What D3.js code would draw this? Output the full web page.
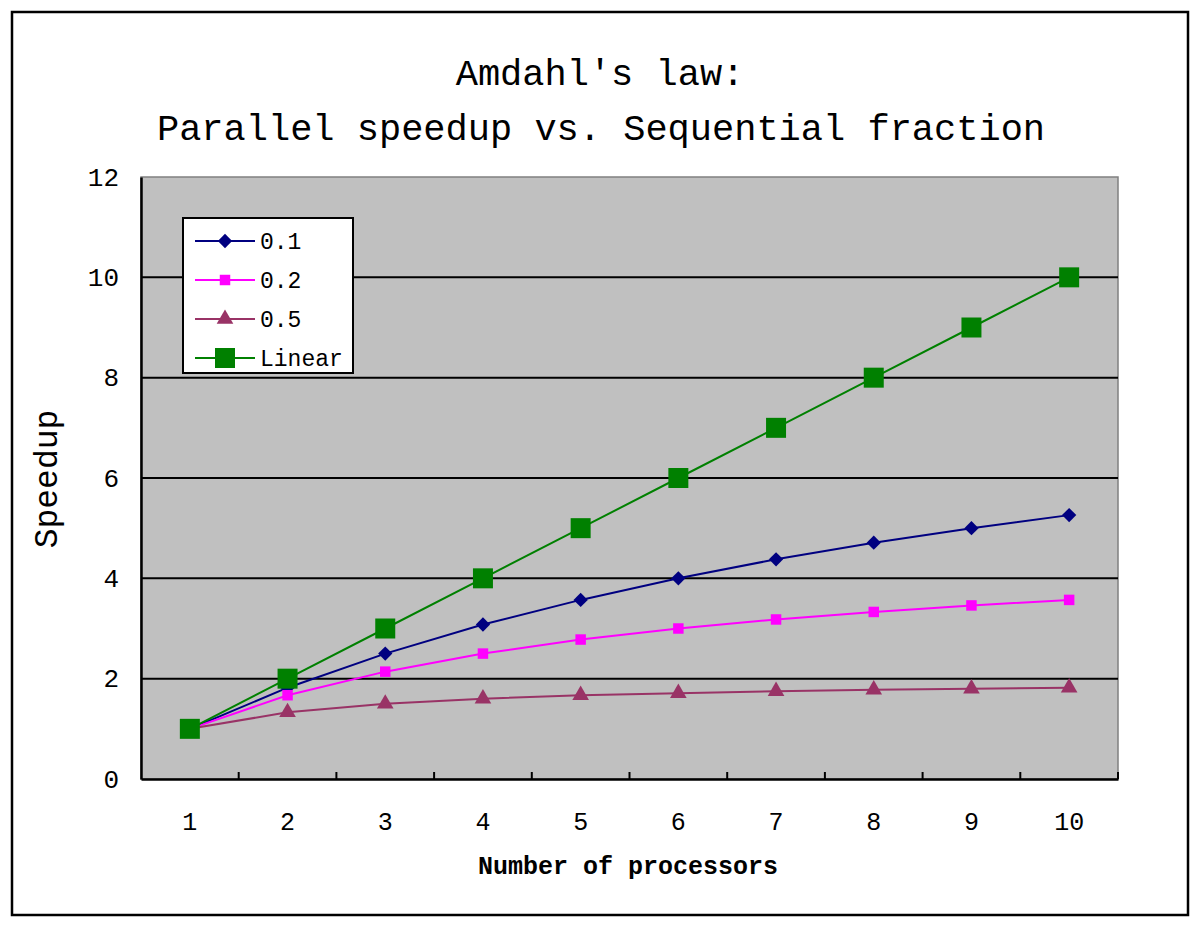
<!DOCTYPE html>
<html>
<head>
<meta charset="utf-8">
<script src="https://cdn.jsdelivr.net/npm/d3@7"></script>
<style>
  body { margin: 0; background: #fff; }
  text { font-family: "Liberation Mono", "DejaVu Sans Mono", monospace; fill: #000; }
</style>
</head>
<body>
<svg id="chart" width="1200" height="928"></svg>
<script>
// data
const processors = [1, 2, 3, 4, 5, 6, 7, 8, 9, 10];
const s01 = [1, 1.82, 2.5, 3.08, 3.57, 4, 4.38, 4.71, 5, 5.26];
const s02 = [1, 1.67, 2.14, 2.5, 2.78, 3, 3.18, 3.33, 3.46, 3.57];
const s05 = [1, 1.33, 1.5, 1.6, 1.67, 1.71, 1.75, 1.78, 1.8, 1.82];
const linear = [1, 2, 3, 4, 5, 6, 7, 8, 9, 10];
const seriesNames = ['0.1', '0.2', '0.5', 'Linear'];
const yTicks = [0, 2, 4, 6, 8, 10, 12];

const series = [
  { name: seriesNames[0], values: s01, color: '#000080', shape: d3.symbolDiamond2, size: 130 },
  { name: seriesNames[1], values: s02, color: '#ff00ff', shape: d3.symbolSquare, size: 110 },
  { name: seriesNames[2], values: s05, color: '#993366', shape: d3.symbolTriangle, size: 120 },
  { name: seriesNames[3], values: linear, color: '#008000', shape: d3.symbolSquare, size: 400 }
];

const svg = d3.select('#chart');
const plotL = 141, plotR = 1118, plotT = 177, plotB = 779;

// outer frame
svg.append('rect')
  .attr('x', 12).attr('y', 12).attr('width', 1176).attr('height', 903)
  .attr('fill', '#fff').attr('stroke', '#000').attr('stroke-width', 2.5);

var x = d3.scaleBand().domain(processors).range([plotL, plotR]);
var y = d3.scaleLinear().domain([0, 12]).range([plotB, plotT]);

// plot area
svg.append('rect')
  .attr('x', plotL).attr('y', plotT).attr('width', plotR - plotL).attr('height', plotB - plotT)
  .attr('fill', '#c0c0c0').attr('stroke', '#808080').attr('stroke-width', 1.5);

// gridlines
svg.append('g')
  .selectAll('line')
  .data(yTicks.filter(d => d > 0 && d < 12))
  .join('line')
  .attr('x1', plotL).attr('x2', plotR)
  .attr('y1', d => y(d)).attr('y2', d => y(d))
  .attr('stroke', '#000').attr('stroke-width', 2);

// y axis
var yAxis = svg.append('g')
  .attr('transform', `translate(${plotL},0)`)
  .call(d3.axisLeft(y).tickValues(yTicks).tickSize(0).tickPadding(22));
yAxis.select('.domain').attr('stroke', '#000').attr('stroke-width', 2.5);
yAxis.selectAll('text').style('font-size', '26px').style('font-family', '"Liberation Mono", monospace');

// x axis: labels in bands, ticks at band edges pointing up
var xAxis = svg.append('g')
  .attr('transform', `translate(0,${plotB})`)
  .call(d3.axisBottom(x).tickSize(0).tickPadding(33));
xAxis.select('.domain').attr('stroke', '#000').attr('stroke-width', 2.5);
xAxis.selectAll('text').style('font-size', '25px').style('font-family', '"Liberation Mono", monospace');

svg.append('g')
  .selectAll('line')
  .data(processors.slice(1).concat(['end']))
  .join('line')
  .attr('x1', d => d === 'end' ? plotR : x(d))
  .attr('x2', d => d === 'end' ? plotR : x(d))
  .attr('y1', plotB).attr('y2', plotB - 7)
  .attr('stroke', '#000').attr('stroke-width', 2);

// lines and markers
var line = d3.line()
  .x((d, i) => x(processors[i]) + x.bandwidth() / 2)
  .y(d => y(d));

series.forEach(function(s) {
  svg.append('path')
    .datum(s.values)
    .attr('d', line)
    .attr('fill', 'none')
    .attr('stroke', s.color)
    .attr('stroke-width', 2);
});

series.forEach(function(s) {
  svg.append('g')
    .selectAll('path')
    .data(s.values)
    .join('path')
    .attr('d', d3.symbol().type(s.shape).size(s.size))
    .attr('transform', (d, i) => `translate(${x(processors[i]) + x.bandwidth() / 2},${y(d)})`)
    .attr('fill', s.color);
});

// legend
var legend = svg.append('g').attr('transform', 'translate(183,218)');
legend.append('rect')
  .attr('width', 170).attr('height', 155)
  .attr('fill', '#fff').attr('stroke', '#000').attr('stroke-width', 2);

series.forEach(function(s, i) {
  var ly = 23 + i * 39;
  legend.append('line')
    .attr('x1', 12).attr('x2', 72).attr('y1', ly).attr('y2', ly)
    .attr('stroke', s.color).attr('stroke-width', 2);
  legend.append('path')
    .attr('d', d3.symbol().type(s.shape).size(s.size))
    .attr('transform', `translate(42,${ly})`)
    .attr('fill', s.color);
  legend.append('text')
    .attr('x', 77).attr('y', ly + 8)
    .style('font-size', '23px')
    .text(s.name);
});

// titles
svg.append('text')
  .attr('x', 600).attr('y', 85)
  .attr('text-anchor', 'middle')
  .style('font-size', '37px')
  .text("Amdahl's law:");
svg.append('text')
  .attr('x', 601).attr('y', 140)
  .attr('text-anchor', 'middle')
  .style('font-size', '37px')
  .text('Parallel speedup vs. Sequential fraction');

svg.append('text')
  .attr('x', 628).attr('y', 874)
  .attr('text-anchor', 'middle')
  .style('font-size', '25px')
  .style('font-weight', 'bold')
  .text('Number of processors');

svg.append('text')
  .attr('transform', 'translate(57,479) rotate(-90)')
  .attr('text-anchor', 'middle')
  .style('font-size', '33px')
  .text('Speedup');
</script>
</body>
</html>
